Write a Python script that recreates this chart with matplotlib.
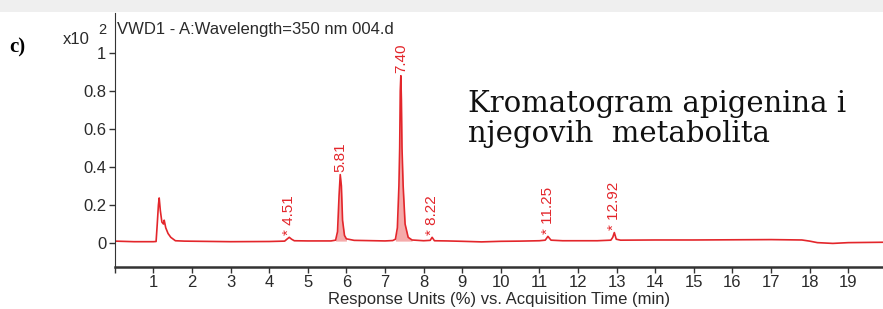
import numpy as np
import matplotlib.pyplot as plt
from matplotlib.patches import Rectangle

# trace (time in min, signal in x10^2 response units)
time_min = [0.0, 0.5, 1.0, 1.07, 1.1, 1.13, 1.15, 1.18, 1.22, 1.26, 1.28, 1.32, 1.38, 1.45,
            1.57, 1.8, 2.2, 3.0, 4.0, 4.4, 4.47, 4.52, 4.58, 4.65, 5.0, 5.6, 5.72, 5.77, 5.81,
            5.84, 5.87, 5.9, 5.95, 6.0, 6.2, 7.0, 7.2, 7.27, 7.32, 7.36, 7.38, 7.395, 7.41,
            7.425, 7.44, 7.47, 7.52, 7.6, 7.7, 8.0, 8.17, 8.22, 8.28, 8.6, 9.0, 9.5, 10.0,
            10.5, 11.0, 11.15, 11.22, 11.3, 11.6, 12.5, 12.85, 12.9, 12.94, 12.99, 13.1,
            14.0, 15.0, 16.0, 17.0, 17.8, 18.0, 18.2, 18.6, 19.0, 19.9]
signal = [0.01, 0.007, 0.007, 0.008, 0.1, 0.2, 0.237, 0.17, 0.11, 0.10, 0.12, 0.08, 0.05,
          0.03, 0.012, 0.01, 0.009, 0.007, 0.008, 0.01, 0.022, 0.03, 0.02, 0.012, 0.011,
          0.011, 0.015, 0.06, 0.25, 0.36, 0.30, 0.12, 0.04, 0.022, 0.014, 0.011, 0.013,
          0.02, 0.08, 0.3, 0.5, 0.8, 0.88, 0.75, 0.5, 0.3, 0.1, 0.03, 0.016, 0.012, 0.014,
          0.03, 0.012, 0.011, 0.009, 0.006, 0.009, 0.01, 0.012, 0.015, 0.035, 0.015, 0.012,
          0.012, 0.015, 0.03, 0.055, 0.02, 0.015, 0.016, 0.016, 0.017, 0.018, 0.016, 0.01,
          0.002, -0.002, 0.002, 0.004]

# peak labels
peak_rt = [4.52, 5.84, 7.41, 8.22, 11.22, 12.94]
peak_h = [0.03, 0.36, 0.88, 0.03, 0.035, 0.055]
peak_txt = ['* 4.51', '5.81', '7.40', '* 8.22', '* 11.25', '* 12.92']

# integrated (shaded) windows
windows = [(5.72, 6.0), (7.25, 7.7)]

t = np.array(time_min)
s = np.array(signal)

fig = plt.figure(figsize=(8.83, 3.09), dpi=100)
fig.patches.append(Rectangle((0, 0.962), 1, 0.038, transform=fig.transFigure,
                             color='#efefef', lw=0, zorder=0))
ax = fig.add_axes([0.13, 0.136, 0.87, 0.822])
ax.patch.set_alpha(0)
red = '#e3262b'

ax.plot(t, s, color=red, lw=1.2)
for a, b in windows:
    m = (t >= a) & (t <= b)
    ax.fill_between(t[m], s[m], 0.01, color='#f5aaaa', lw=0)

for x, h, lab in zip(peak_rt, peak_h, peak_txt):
    ax.annotate(lab, (x, h), xytext=(0, 2), textcoords='offset points',
                rotation=90, ha='center', va='bottom', color=red,
                fontsize=11, family='Liberation Sans')

ax.set_xlim(0, 19.9)
ax.set_ylim(-0.126, 1.21)
ax.set_xticks(range(0, 20))
ax.set_xticklabels([''] + [str(i) for i in range(1, 20)])
ax.set_yticks([0, 0.2, 0.4, 0.6, 0.8, 1])
ax.set_yticklabels(['0', '0.2', '0.4', '0.6', '0.8', '1'])
for lbl in ax.get_xticklabels() + ax.get_yticklabels():
    lbl.set_family('Liberation Sans')
    lbl.set_fontsize(12)
    lbl.set_color('#2a2a2a')
ax.tick_params(axis='both', length=4, width=1, color='#333333', pad=2)
ax.spines['top'].set_visible(False)
ax.spines['right'].set_visible(False)
ax.spines['bottom'].set_linewidth(1.8)
ax.spines['bottom'].set_color('#333333')
ax.spines['left'].set_color('#333333')
ax.set_xlabel('Response Units (%) vs. Acquisition Time (min)', family='Liberation Sans',
              fontsize=12, color='#2a2a2a', labelpad=1)

fig.text(0.132, 0.906, 'VWD1 - A:Wavelength=350 nm 004.d', family='Liberation Sans',
         fontsize=12, color='#2a2a2a', va='center')
fig.text(0.071, 0.873, 'x10', family='Liberation Sans', fontsize=12, color='#2a2a2a', va='center')
fig.text(0.111, 0.902, '2', family='Liberation Sans', fontsize=10.5, color='#2a2a2a', va='center')
fig.text(0.011, 0.846, 'c)', family='Liberation Serif', fontsize=15, weight='bold', va='center')

fig.text(0.53, 0.6375, 'Kromatogram apigenina i', family='DejaVu Serif', fontsize=21,
         va='baseline', color='#111111')
fig.text(0.53, 0.5405, 'njegovih  metabolita', family='DejaVu Serif', fontsize=21,
         va='baseline', color='#111111')

fig.savefig('out.png', dpi=100)
